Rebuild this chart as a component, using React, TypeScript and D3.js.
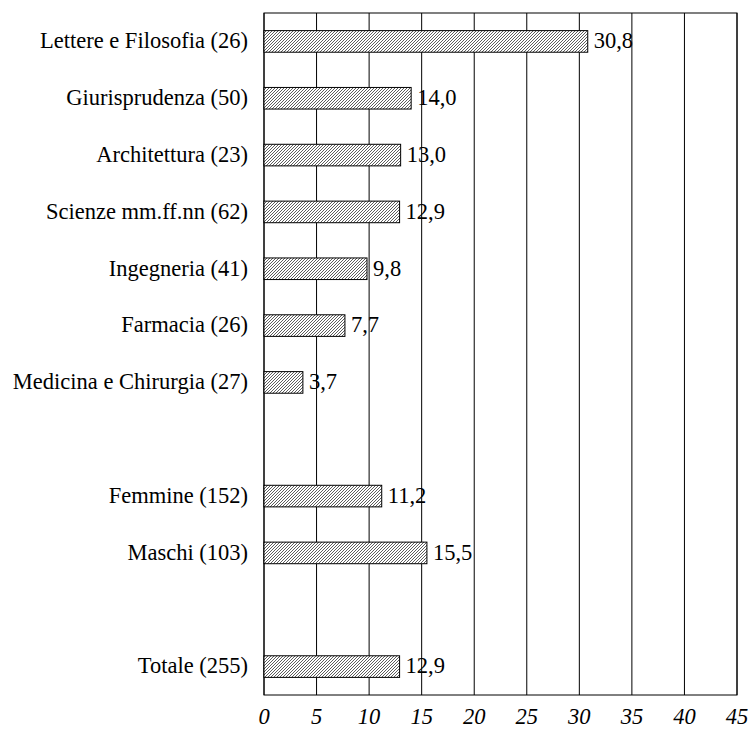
import React from 'react';
import * as d3 from 'd3';

// rows from top to bottom, empty strings are spacer rows
const categories = [
  'Lettere e Filosofia (26)',
  'Giurisprudenza (50)',
  'Architettura (23)',
  'Scienze mm.ff.nn (62)',
  'Ingegneria (41)',
  'Farmacia (26)',
  'Medicina e Chirurgia (27)',
  '',
  'Femmine (152)',
  'Maschi (103)',
  '',
  'Totale (255)',
];
const values: (number | null)[] = [30.8, 14.0, 13.0, 12.9, 9.8, 7.7, 3.7, null, 11.2, 15.5, null, 12.9];
const ticks = [0, 5, 10, 15, 20, 25, 30, 35, 40, 45];

const W = 748;
const H = 735;
const margin = { top: 13, right: 11, bottom: 40, left: 264 };
const font = 'Liberation Serif, Times New Roman, serif';

export default function App() {
  const x = d3.scaleLinear().domain([0, 45]).range([margin.left, W - margin.right]);
  const y = d3
    .scaleBand<number>()
    .domain(d3.range(categories.length))
    .range([margin.top, H - margin.bottom])
    .paddingInner(0.62)
    .paddingOuter(0.31);
  const fmt = (v: number) => v.toFixed(1).replace('.', ',');

  return (
    <>
      <style>{'body{margin:0}'}</style>
      <svg width={W} height={H} style={{ display: 'block', background: '#fff' }}>
        <defs>
          <pattern id="hatch" patternUnits="userSpaceOnUse" width={3} height={3}>
            <rect width={3} height={3} fill="#fff" />
            <path d="M-1,1 l2,-2 M0,3 l3,-3 M2,4 l2,-2" stroke="#333" strokeWidth={0.8} />
          </pattern>
        </defs>
        {/* gridlines */}
        {ticks.map((t) => (
          <line
            key={'g' + t}
            x1={x(t)}
            x2={x(t)}
            y1={margin.top}
            y2={H - margin.bottom}
            stroke="#000"
            strokeWidth={1}
          />
        ))}
        <rect
          x={margin.left}
          y={margin.top}
          width={x(45) - x(0)}
          height={H - margin.bottom - margin.top}
          fill="none"
          stroke="#000"
          strokeWidth={1}
        />
        {/* bars */}
        {values.map((v, i) =>
          v == null ? null : (
            <g key={'b' + i}>
              <rect
                x={x(0)}
                y={y(i)!}
                width={x(v) - x(0)}
                height={y.bandwidth()}
                fill="url(#hatch)"
                stroke="#000"
                strokeWidth={1}
              />
              <text
                x={x(v) + 6}
                y={y(i)! + y.bandwidth() / 2}
                dy="0.3em"
                fontFamily={font}
                fontSize={22.5}
                fill="#000"
              >
                {fmt(v)}
              </text>
            </g>
          )
        )}
        {/* category labels */}
        {categories.map((c, i) => (
          <text
            key={'c' + i}
            x={margin.left - 16}
            y={y(i)! + y.bandwidth() / 2}
            dy="0.3em"
            textAnchor="end"
            fontFamily={font}
            fontSize={22.5}
            fill="#000"
          >
            {c}
          </text>
        ))}
        {/* x tick labels */}
        {ticks.map((t) => (
          <text
            key={'t' + t}
            x={x(t)}
            y={H - 11}
            textAnchor="middle"
            fontFamily={font}
            fontStyle="italic"
            fontSize={22.5}
            fill="#000"
          >
            {t}
          </text>
        ))}
      </svg>
    </>
  );
}
